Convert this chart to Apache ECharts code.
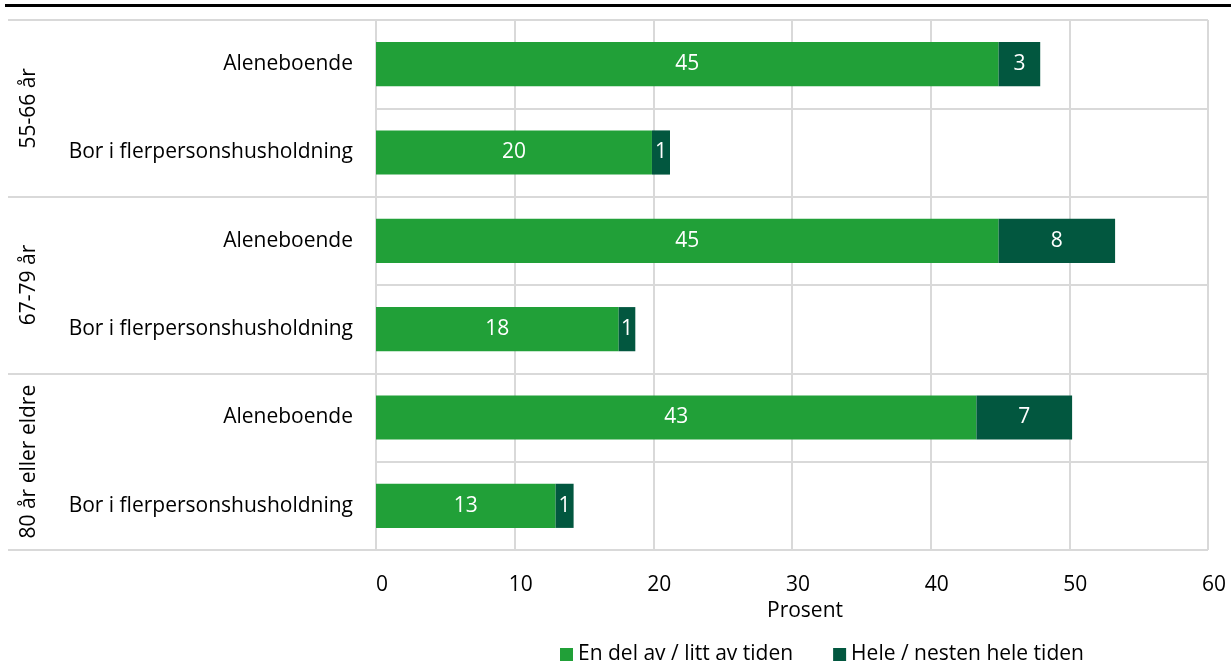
<!DOCTYPE html>
<html><head><meta charset="utf-8">
<script src="https://cdn.jsdelivr.net/npm/echarts@6/dist/echarts.min.js"></script>
<style>html,body{margin:0;padding:0;background:#fff}#c{width:1231px;height:664px}#topline{position:absolute;left:5px;right:0;top:4px;height:3px;background:#000}</style>
</head><body><div id="topline"></div><div id="c"></div>
<script>
const categories = ['Aleneboende','Bor i flerpersonshusholdning','Aleneboende','Bor i flerpersonshusholdning','Aleneboende','Bor i flerpersonshusholdning'];
const groups = ['55-66 år','67-79 år','80 år eller eldre'];
const seriesNames = ['En del av / litt av tiden','Hele / nesten hele tiden'];
const partTime = [44.9, 19.9, 44.9, 17.5, 43.3, 12.95];
const fullTime = [3.0, 1.3, 8.4, 1.2, 6.9, 1.3];
const xTicks = [0,10,20,30,40,50,60];

const FONT = '"Open Sans", "Noto Sans", sans-serif';
const FS = 21;
const chart = echarts.init(document.getElementById('c'));
const lbl = {show:true, position:'inside', color:'#fff', fontSize:FS, fontFamily:FONT,
  padding:[4,0,0,0], formatter: p => Math.round(p.value)};
chart.setOption({
  animation:false,
  textStyle:{fontFamily:FONT},
  grid:{left:376, right:23, top:20, bottom:114, containLabel:false},
  legend:{top:639, left:555, itemWidth:13, itemHeight:13, itemGap:40,
    icon:'rect', textStyle:{fontSize:FS, color:'#000', fontFamily:FONT}, data:seriesNames},
  xAxis:{type:'value', min:xTicks[0], max:xTicks[xTicks.length-1], interval:10,
    axisLine:{show:false}, axisTick:{show:false},
    splitLine:{lineStyle:{color:'#d9d9d9', width:2}},
    axisLabel:{fontSize:FS, color:'#000', margin:25, padding:[0,0,0,12], fontFamily:FONT},
    name:'Prosent', nameLocation:'middle', nameGap:48,
    nameTextStyle:{fontSize:FS, color:'#000', padding:[0,0,0,26], fontFamily:FONT}},
  yAxis:[
    {type:'category', data:categories, inverse:true,
     axisLine:{show:false}, axisTick:{show:false},
     splitLine:{show:true, interval:0, lineStyle:{color:'#d9d9d9', width:2}},
     axisLabel:{fontSize:FS, color:'#000', margin:23, interval:0, padding:[3,0,0,0], fontFamily:FONT}},
    {type:'category', data:groups, inverse:true, position:'left',
     axisLine:{show:false},
     axisTick:{show:true, interval:0, length:368, lineStyle:{color:'#d9d9d9', width:2}},
     axisLabel:{fontSize:FS, color:'#000', rotate:90, margin:336, interval:0, hideOverlap:false, fontFamily:FONT}}
  ],
  series:[
    {name:seriesNames[0], type:'bar', stack:'a', data:partTime, barWidth:'50%',
     itemStyle:{color:'#21a038'}, label:lbl},
    {name:seriesNames[1], type:'bar', stack:'a', data:fullTime, barWidth:'50%',
     itemStyle:{color:'#02573f'}, label:lbl}
  ]
});
</script></body></html>
